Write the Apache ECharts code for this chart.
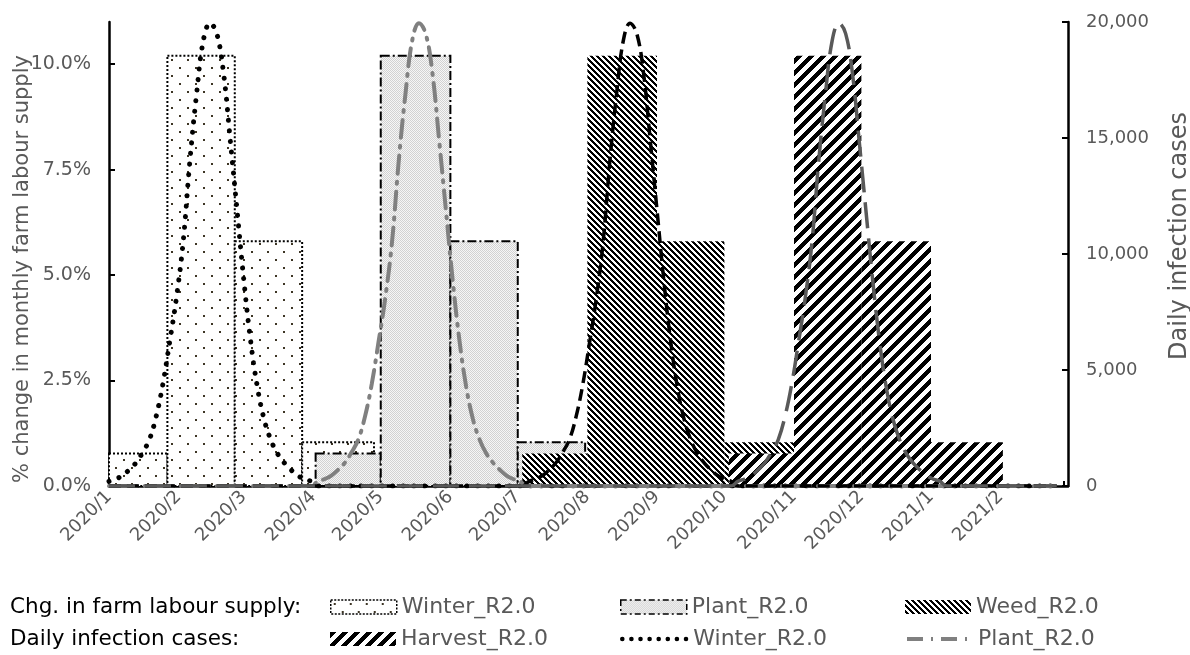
<!DOCTYPE html>
<html>
<head>
<meta charset="utf-8">
<script src="https://cdn.jsdelivr.net/npm/echarts@6.0.0/dist/echarts.min.js"></script>
<style>
  html, body { margin: 0; padding: 0; background: #fff; }
  #chart { width: 1190px; height: 655px; }
</style>
</head>
<body>
<div id="chart"></div>
<script>
// ---- data ----------------------------------------------------------------
// Monthly change in farm labour supply (%), four months per scenario
const labourChange = [0.77, 10.2, 5.8, 1.04];

// Month boundaries of each scenario's bars (start of bar 1 ... end of bar 4)
const winterBarDates  = ['2020-01-01', '2020-01-27', '2020-02-26', '2020-03-27', '2020-04-28'];
const plantBarDates   = ['2020-04-02', '2020-05-01', '2020-06-01', '2020-07-01', '2020-07-31'];
const weedBarDates    = ['2020-07-03', '2020-08-01', '2020-09-01', '2020-10-01', '2020-11-01'];
const harvestBarDates = ['2020-10-03', '2020-11-01', '2020-12-01', '2021-01-01', '2021-02-02'];

// Daily infection cases around the epidemic peak, every 3 days from -45 to +45 days
const caseDayOffsets = [-45, -42, -39, -36, -33, -30, -27, -24, -21, -18, -15, -12, -9, -6, -3, 0,
                        3, 6, 9, 12, 15, 18, 21, 24, 27, 30, 33, 36, 39, 42, 45];
const dailyCases = [200, 300, 450, 700, 1000, 1450, 2000, 3000, 4400, 6200, 8100, 10500, 14000, 16900, 19200, 19950,
                    19500, 17800, 14900, 11900, 8900, 6300, 4300, 2900, 2000, 1400, 1000, 700, 450, 300, 200];

// Peak day of the infection wave in each scenario
const winterPeak  = '2020-02-15';
const plantPeak   = '2020-05-18';
const weedPeak    = '2020-08-20';
const harvestPeak = '2020-11-21';

const axisStart = '2020-01-01';
const axisEnd   = '2021-03-03';
const lastLabel = '2021-02-01';
const lineEnd   = '2021-02-26';

// Axis tick labels
const leftTicks  = [0, 2.5, 5, 7.5, 10];
const rightTicks = [0, 5000, 10000, 15000, 20000];

// ---- helpers -------------------------------------------------------------
const DAY = 86400000;
const ts = s => new Date(s + 'T00:00:00Z').getTime();

function barData(dates) {
  return labourChange.map((v, i) => [ts(dates[i]), ts(dates[i + 1]), v]);
}

function caseData(peak) {
  const p = ts(peak), a = ts(axisStart), e = ts(lineEnd);
  const pts = [];
  const first = p + caseDayOffsets[0] * DAY;
  if (first > a) pts.push([a, 0], [first - 3 * DAY, 0]);
  caseDayOffsets.forEach((d, i) => {
    const t = p + d * DAY;
    if (t >= a) pts.push([t, dailyCases[i]]);
  });
  const last = p + caseDayOffsets[caseDayOffsets.length - 1] * DAY;
  pts.push([last + 3 * DAY, 0], [e, 0]);
  return pts;
}

// Fill patterns for the bars
function tile(w, h, paint) {
  const c = document.createElement('canvas');
  c.width = w; c.height = h;
  const g = c.getContext('2d');
  g.fillStyle = '#ffffff';
  g.fillRect(0, 0, w, h);
  paint(g);
  return c;
}
const dotTile = tile(16, 16, g => {
  g.fillStyle = '#3d3525';
  g.fillRect(3, 3, 2, 2);
  g.fillRect(11, 11, 2, 2);
});
const greyTile = tile(2, 2, g => {
  g.fillStyle = '#f6f6f6'; g.fillRect(0, 0, 2, 2);
  g.fillStyle = '#d2d2d2'; g.fillRect(0, 0, 1, 1); g.fillRect(1, 1, 1, 1);
});
const downHatchTile = tile(6, 6, g => {
  g.fillStyle = '#000';
  for (let y = 0; y < 6; y++) for (let x = 0; x < 6; x++) {
    if (((x - y) % 6 + 6) % 6 < 3) g.fillRect(x, y, 1, 1);
  }
});
const upHatchTile = tile(12, 12, g => {
  g.fillStyle = '#000';
  for (let y = 0; y < 12; y++) for (let x = 0; x < 12; x++) {
    if ((x + y) % 12 < 6) g.fillRect(x, y, 1, 1);
  }
});
const pattern = img => ({ image: img, repeat: 'repeat' });

const barLooks = {
  winter:  { fill: pattern(dotTile), stroke: '#000', lineWidth: 2, lineDash: [2, 2] },
  plant:   { fill: pattern(greyTile), stroke: '#000', lineWidth: 2, lineDash: [9, 3, 2, 3] },
  weed:    { fill: pattern(downHatchTile), stroke: null, lineWidth: 0 },
  harvest: { fill: pattern(upHatchTile), stroke: null, lineWidth: 0 }
};

function barSeries(name, dates, look) {
  return {
    name: name,
    type: 'custom',
    xAxisIndex: 0,
    yAxisIndex: 0,
    data: barData(dates),
    encode: { x: [0, 1], y: 2 },
    itemStyle: { color: look.fill, borderColor: look.stroke || '#000', borderWidth: look.lineWidth },
    renderItem: function (params, api) {
      const top = api.coord([api.value(0), api.value(2)]);
      const bottom = api.coord([api.value(1), 0]);
      return {
        type: 'rect',
        shape: { x: top[0], y: top[1], width: bottom[0] - top[0], height: bottom[1] - top[1] },
        style: { fill: look.fill, stroke: look.stroke, lineWidth: look.lineWidth, lineDash: look.lineDash }
      };
    }
  };
}

function lineSeries(name, peak, style) {
  return {
    name: name,
    type: 'line',
    xAxisIndex: 0,
    yAxisIndex: 1,
    data: caseData(peak),
    symbol: 'none',
    smooth: 0.4,
    z: 5,
    lineStyle: style,
    itemStyle: { color: style.color }
  };
}

const FONT = 'DejaVu Sans';
const GREY = '#595959';

const winterLine  = { color: '#000000', width: 5, type: [0.1, 10.5], cap: 'round' };
const plantLine   = { color: '#808080', width: 4, type: [18, 8, 2, 8], cap: 'round' };
const weedLine    = { color: '#000000', width: 3.5, type: [12, 6] };
const harvestLine = { color: '#595959', width: 3.5, type: [26, 10] };

const legendBase = {
  orient: 'horizontal',
  padding: 0,
  itemWidth: 66,
  itemHeight: 14,
  selectedMode: false,
  textStyle: { color: GREY, fontSize: 22, fontFamily: FONT },
  formatter: n => n.replace(' cases', '')
};

const option = {
  animation: false,
  backgroundColor: '#ffffff',
  grid: { left: 109, right: 122, top: 22, bottom: 169, containLabel: false, outerBoundsMode: 'none' },
  xAxis: {
    type: 'time',
    min: ts(axisStart),
    max: ts(axisEnd),
    minInterval: 28 * DAY,
    maxInterval: 31 * DAY,
    axisLine: { lineStyle: { color: '#000', width: 2.5 } },
    axisTick: { inside: true, length: 5, lineStyle: { color: '#000', width: 2 } },
    splitLine: { show: false },
    axisLabel: {
      rotate: 45,
      margin: 8,
      color: GREY,
      fontSize: 18,
      fontFamily: FONT,
      hideOverlap: false,
      showMaxLabel: false,
      formatter: function (v) {
        if (v > ts(lastLabel)) return '';
        const d = new Date(v);
        return d.getUTCFullYear() + '/' + (d.getUTCMonth() + 1);
      }
    }
  },
  yAxis: [
    {
      type: 'value',
      min: 0,
      max: 11,
      position: 'left',
      name: '% change in monthly farm labour supply',
      nameLocation: 'middle',
      nameRotate: 90,
      nameGap: 76,
      nameMoveOverlap: false,
      nameTextStyle: { color: GREY, fontSize: 21, fontFamily: FONT, padding: [0, 30, 0, 0] },
      axisLine: { show: true, lineStyle: { color: '#000', width: 2.5 } },
      axisTick: { show: true, inside: true, length: 6, customValues: leftTicks, lineStyle: { color: '#000', width: 2 } },
      axisLabel: {
        customValues: leftTicks,
        margin: 18,
        color: GREY,
        fontSize: 19,
        fontFamily: FONT,
        formatter: v => v.toFixed(1) + '%'
      },
      splitLine: { show: false }
    },
    {
      type: 'value',
      min: 0,
      max: 20000,
      interval: 5000,
      position: 'right',
      name: 'Daily infection cases',
      nameLocation: 'middle',
      nameRotate: 90,
      nameGap: 100,
      nameMoveOverlap: false,
      nameTextStyle: { color: GREY, fontSize: 24, fontFamily: FONT, padding: [0, 0, 0, 36] },
      axisLine: { show: true, lineStyle: { color: '#000', width: 2.5 } },
      axisTick: { show: true, inside: true, length: 6, customValues: rightTicks, lineStyle: { color: '#000', width: 2 } },
      axisLabel: {
        customValues: rightTicks,
        margin: 18,
        color: GREY,
        fontSize: 18,
        fontFamily: FONT,
        formatter: v => v.toLocaleString('en-US')
      },
      splitLine: { show: false }
    }
  ],
  legend: [
    Object.assign({}, legendBase, { left: 330, top: 596, data: [{ name: 'Winter_R2.0', icon: 'rect', itemStyle: { color: pattern(dotTile), borderColor: '#000', borderWidth: 1.5, borderType: [2, 1.5] } }] }),
    Object.assign({}, legendBase, { left: 620, top: 596, data: [{ name: 'Plant_R2.0', icon: 'rect', itemStyle: { color: pattern(greyTile), borderColor: '#000', borderWidth: 1.5, borderType: [6, 3, 2, 3] } }] }),
    Object.assign({}, legendBase, { left: 905, top: 596, data: [{ name: 'Weed_R2.0', icon: 'rect', itemStyle: { color: pattern(downHatchTile), borderWidth: 0 } }] }),
    Object.assign({}, legendBase, { left: 330, top: 628, data: [{ name: 'Harvest_R2.0', icon: 'rect', itemStyle: { color: pattern(upHatchTile), borderWidth: 0 } }] }),
    Object.assign({}, legendBase, { left: 620, top: 628, data: [{ name: 'Winter_R2.0 cases', itemStyle: { opacity: 0 },
      lineStyle: { color: '#000', width: 4.5, type: [0.1, 9], cap: 'round' } }] }),
    Object.assign({}, legendBase, { left: 905, top: 628, data: [{ name: 'Plant_R2.0 cases', itemStyle: { opacity: 0 },
      lineStyle: { color: '#808080', width: 4, type: [16, 8, 2, 8], cap: 'butt' } }] })
  ],
  graphic: [
    { type: 'text', left: 10, top: 596, style: { text: 'Chg. in farm labour supply:', fill: '#000', font: '21.5px "DejaVu Sans"' } },
    { type: 'text', left: 10, top: 628, style: { text: 'Daily infection cases:', fill: '#000', font: '21.5px "DejaVu Sans"' } }
  ],
  series: [
    barSeries('Winter_R2.0', winterBarDates, barLooks.winter),
    barSeries('Plant_R2.0', plantBarDates, barLooks.plant),
    barSeries('Weed_R2.0', weedBarDates, barLooks.weed),
    barSeries('Harvest_R2.0', harvestBarDates, barLooks.harvest),
    lineSeries('Winter_R2.0 cases', winterPeak, winterLine),
    lineSeries('Plant_R2.0 cases', plantPeak, plantLine),
    lineSeries('Weed_R2.0 cases', weedPeak, weedLine),
    lineSeries('Harvest_R2.0 cases', harvestPeak, harvestLine)
  ]
};

const chart = echarts.init(document.getElementById('chart'), null, { renderer: 'canvas' });
chart.setOption(option);
</script>
</body>
</html>
